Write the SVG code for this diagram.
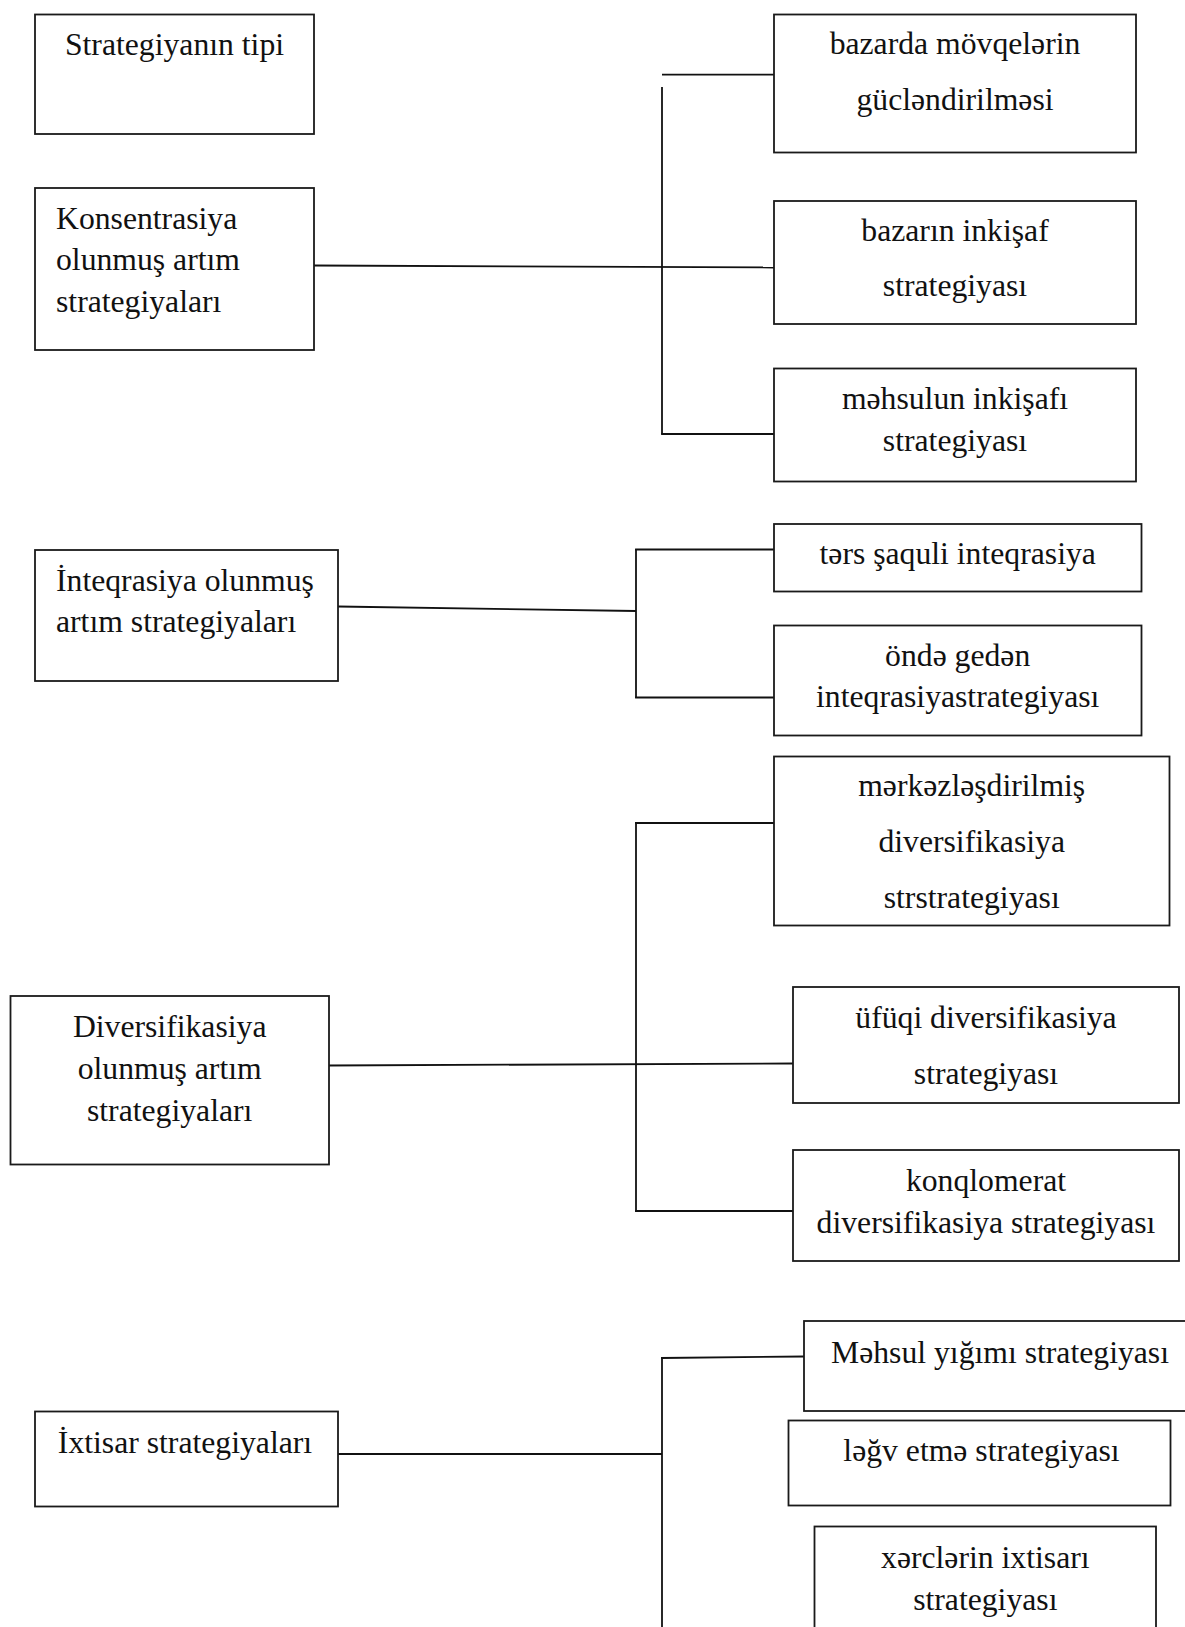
<svg xmlns="http://www.w3.org/2000/svg" width="1185" height="1627" viewBox="0 0 1185 1627">
<style>
.box{fill:#fff;stroke:#1a1a1a;stroke-width:1.8}
.t{font-family:"Liberation Serif","Times New Roman",serif;font-size:31.7px;fill:#111}
.c{text-anchor:middle}
.ln{stroke:#111;stroke-width:1.8;fill:none}
</style>
<rect width="1185" height="1627" fill="#fff"/>
<g id="connectors">
<line class="ln" x1="314" y1="265.5" x2="774" y2="267.5"/>
<line class="ln" x1="662" y1="74.7" x2="774" y2="74.7"/>
<line class="ln" x1="662" y1="87" x2="662" y2="434"/>
<line class="ln" x1="661.1" y1="434" x2="774" y2="434"/>
<line class="ln" x1="338" y1="606.5" x2="636" y2="611"/>
<line class="ln" x1="636" y1="549" x2="636" y2="698"/>
<line class="ln" x1="635.1" y1="549.5" x2="774" y2="549.5"/>
<line class="ln" x1="635.1" y1="697.5" x2="774" y2="697.5"/>
<line class="ln" x1="329" y1="1065.5" x2="793" y2="1063.5"/>
<line class="ln" x1="636" y1="822" x2="636" y2="1212"/>
<line class="ln" x1="635.1" y1="823" x2="774" y2="823"/>
<line class="ln" x1="635.1" y1="1211" x2="793" y2="1211"/>
<line class="ln" x1="338" y1="1454" x2="662" y2="1454"/>
<line class="ln" x1="662" y1="1357" x2="662" y2="1627"/>
<line class="ln" x1="661.1" y1="1358" x2="804" y2="1356.5"/>
</g>
<g id="n-tip">
<rect class="box" x="35" y="14.5" width="279" height="119.5"/>
<text class="t c" x="174.5" y="54.5">Strategiyanın tipi</text>
</g>
<g id="n-konsentrasiya">
<rect class="box" x="35" y="188" width="279" height="162"/>
<text class="t" x="56" y="228.5">Konsentrasiya</text>
<text class="t" x="56" y="270">olunmuş artım</text>
<text class="t" x="56" y="311.5">strategiyaları</text>
</g>
<g id="n-bazarda">
<rect class="box" x="774" y="14.5" width="362" height="138"/>
<text class="t c" x="955" y="54">bazarda mövqelərin</text>
<text class="t c" x="955" y="109.5">gücləndirilməsi</text>
</g>
<g id="n-bazarin">
<rect class="box" x="774" y="201" width="362" height="123"/>
<text class="t c" x="955" y="240.5">bazarın inkişaf</text>
<text class="t c" x="955" y="296">strategiyası</text>
</g>
<g id="n-mehsulun">
<rect class="box" x="774" y="368.5" width="362" height="113"/>
<text class="t c" x="955" y="408.5">məhsulun inkişafı</text>
<text class="t c" x="955" y="450.5">strategiyası</text>
</g>
<g id="n-inteqrasiya">
<rect class="box" x="35" y="550" width="303" height="131"/>
<text class="t" x="56" y="590.5">İnteqrasiya olunmuş</text>
<text class="t" x="56" y="632">artım strategiyaları</text>
</g>
<g id="n-ters">
<rect class="box" x="774" y="524" width="367.5" height="67.5"/>
<text class="t c" x="957.7" y="563.5">tərs şaquli inteqrasiya</text>
</g>
<g id="n-onde">
<rect class="box" x="774" y="625.5" width="367.5" height="110"/>
<text class="t c" x="957.7" y="665.5">öndə gedən</text>
<text class="t c" x="957.7" y="707">inteqrasiyastrategiyası</text>
</g>
<g id="n-diversifikasiya">
<rect class="box" x="10.5" y="996" width="318.5" height="168.5"/>
<text class="t c" x="169.7" y="1037">Diversifikasiya</text>
<text class="t c" x="169.7" y="1078.5">olunmuş artım</text>
<text class="t c" x="169.7" y="1120.5">strategiyaları</text>
</g>
<g id="n-merkez">
<rect class="box" x="774" y="756.5" width="395.5" height="169"/>
<text class="t c" x="971.7" y="796">mərkəzləşdirilmiş</text>
<text class="t c" x="971.7" y="852">diversifikasiya</text>
<text class="t c" x="971.7" y="907.5">strstrategiyası</text>
</g>
<g id="n-ufuqi">
<rect class="box" x="793" y="987" width="386" height="116"/>
<text class="t c" x="986" y="1027.5">üfüqi diversifikasiya</text>
<text class="t c" x="986" y="1083.5">strategiyası</text>
</g>
<g id="n-konqlomerat">
<rect class="box" x="793" y="1150" width="386" height="111"/>
<text class="t c" x="986" y="1190.5">konqlomerat</text>
<text class="t c" x="986" y="1233">diversifikasiya strategiyası</text>
</g>
<g id="n-ixtisar">
<rect class="box" x="35" y="1411.5" width="303" height="95"/>
<text class="t c" x="185" y="1453">İxtisar strategiyaları</text>
</g>
<g id="n-mehsul-yigimi">
<rect class="box" x="804" y="1321" width="392" height="90"/>
<text class="t c" x="1000" y="1362.5">Məhsul yığımı strategiyası</text>
</g>
<g id="n-legv">
<rect class="box" x="788.5" y="1420.5" width="382" height="85"/>
<text class="t c" x="981.5" y="1460.5">ləğv etmə strategiyası</text>
</g>
<g id="n-xerclerin">
<rect class="box" x="814.5" y="1526.5" width="341.5" height="120"/>
<text class="t c" x="985.3" y="1567.5">xərclərin ixtisarı</text>
<text class="t c" x="985.3" y="1609.5">strategiyası</text>
</g>
</svg>
